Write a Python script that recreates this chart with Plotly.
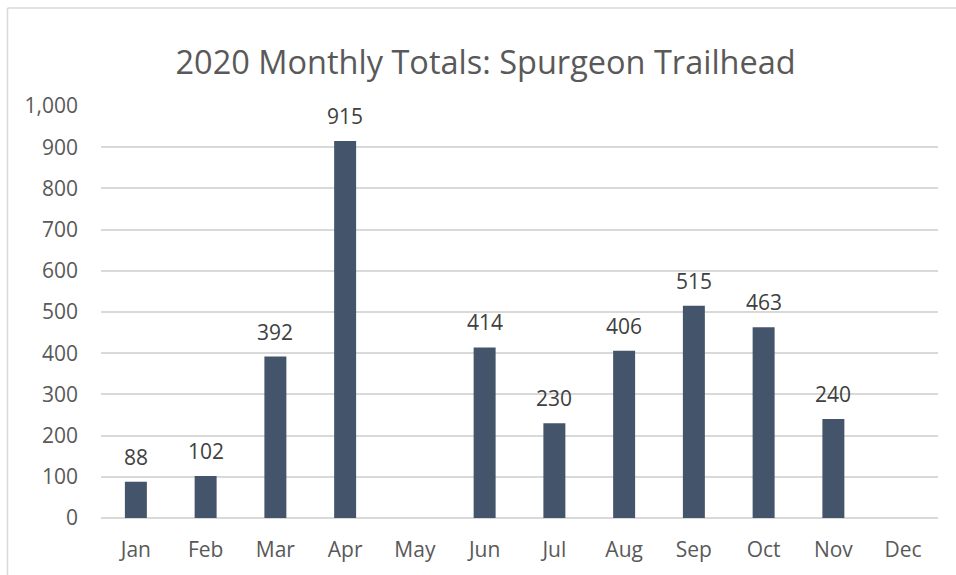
import plotly.graph_objects as go

months = ["Jan", "Feb", "Mar", "Apr", "May", "Jun", "Jul", "Aug", "Sep", "Oct", "Nov", "Dec"]
totals = [88, 102, 392, 915, None, 414, 230, 406, 515, 463, 240, None]
y_ticks = [0, 100, 200, 300, 400, 500, 600, 700, 800, 900, 1000]
title_text = "2020 Monthly Totals: Spurgeon Trailhead"

FONT = "Open Sans"
BAR = "#44546A"
GRID = "#D9D9D9"

fig = go.Figure()
fig.add_trace(go.Bar(x=months, y=totals, marker=dict(color=BAR, line=dict(width=0)),
                     hoverinfo="x+y"))

for m, v in zip(months, totals):
    if v is not None:
        fig.add_annotation(x=m, y=v, text=f"{v:,}", showarrow=False, yanchor="bottom",
                           yshift=9, font=dict(family=FONT, size=21, color="#404040"))

# chart-area border: only the left and top edges are visible in the reference
fig.add_shape(type="line", xref="paper", yref="paper",
              x0=-0.1117, x1=-0.1117, y0=-0.2, y1=1.2378,
              line=dict(color=GRID, width=1.5), layer="below")
fig.add_shape(type="line", xref="paper", yref="paper",
              x0=-0.1117, x1=1.1, y0=1.2378, y1=1.2378,
              line=dict(color=GRID, width=1.5), layer="below")

fig.update_layout(
    width=956, height=575,
    margin=dict(l=101, r=18, t=105.7, b=54.3),
    paper_bgcolor="white", plot_bgcolor="white",
    bargap=0.685,
    showlegend=False,
    title=dict(text=title_text, x=0.508, xref="container", xanchor="center",
               y=0.8904, yref="container", yanchor="middle",
               font=dict(family=FONT, size=32.5, color="#595959")),
    xaxis=dict(showgrid=False, showline=False, ticks="", zeroline=False,
               tickfont=dict(family=FONT, size=21, color="#595959"),
               ticklabelstandoff=17),
    yaxis=dict(range=[0, 1000], tickvals=y_ticks, tickformat=",d",
               showgrid=True, gridcolor=GRID, gridwidth=1.5,
               zeroline=True, zerolinecolor=GRID, zerolinewidth=1.5,
               showline=False, ticks="",
               tickfont=dict(family=FONT, size=21, color="#595959"),
               ticklabelstandoff=22),
)

fig.write_html("out.html", config={"displayModeBar": False},
               post_script="document.body.style.margin='0';document.body.style.overflow='hidden';")
